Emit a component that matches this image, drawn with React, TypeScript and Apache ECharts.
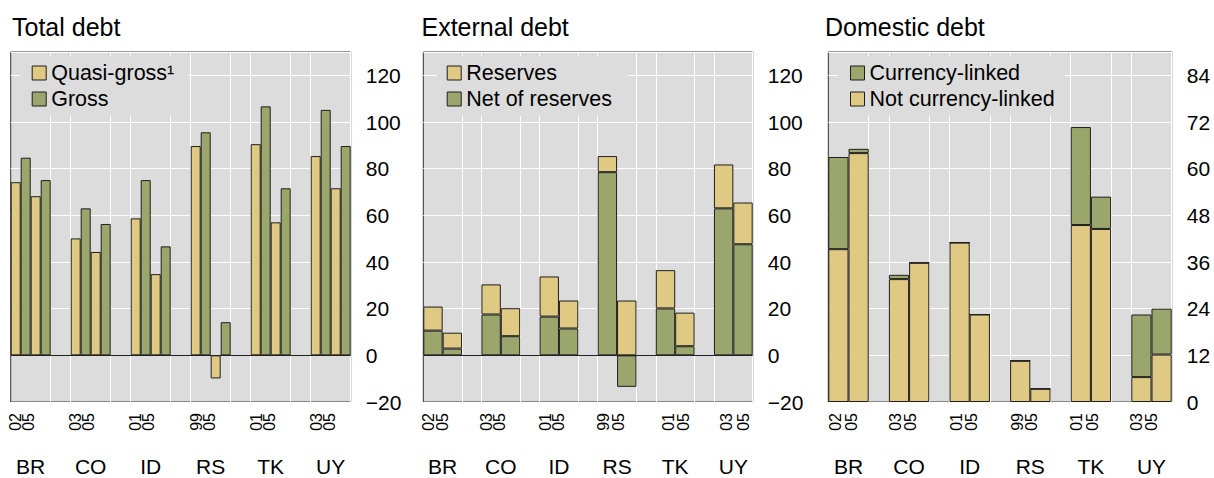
import React, { useEffect, useRef } from "react";
import * as echarts from "echarts";

// Countries and the two observation years shown for each of them
const countries = ["BR", "CO", "ID", "RS", "TK", "UY"];
const years = [
  ["02", "05"],
  ["03", "05"],
  ["01", "05"],
  ["99", "05"],
  ["01", "05"],
  ["03", "05"],
];

// Total debt (per cent of GDP), two bars per year
const quasiGross = [74.2, 68.2, 50.1, 44.3, 58.7, 34.8, 89.7, -9.9, 90.5, 57.0, 85.4, 71.6];
const gross = [84.7, 75.1, 63.0, 56.3, 75.1, 46.7, 95.6, 14.2, 106.7, 71.6, 105.2, 89.7];

// External debt, stacked: net of reserves + reserves
const netOfReserves = [10.6, 2.9, 17.5, 8.2, 16.6, 11.5, 78.5, -13.5, 20.1, 3.9, 63.0, 47.6];
const reserves = [10.3, 6.8, 12.9, 12.0, 17.2, 12.0, 6.9, 23.5, 16.4, 14.4, 18.8, 17.9];

// Domestic debt, stacked: not currency-linked + currency-linked
const notCurrencyLinked = [39.3, 64.0, 31.6, 35.8, 41.0, 22.5, 10.6, 3.4, 45.5, 44.5, 6.4, 12.2];
const currencyLinked = [23.7, 1.1, 1.1, 0, 0, 0, 0, 0, 25.2, 8.3, 16.1, 11.8];

// Value-axis ranges
const totalAxis = { min: -20, max: 130, interval: 20 };
const externalAxis = { min: -20, max: 130, interval: 20 };
const domesticAxis = { min: 0, max: 90, interval: 12 };

const titles = ["Total debt", "External debt", "Domestic debt"];

// ---- layout / style constants ----
const FONT = "'Liberation Sans', Arial, Helvetica, sans-serif";
const YELLOW = "#dfc983";
const GREEN = "#9aa66c";
const PLOT_BG = "#dcdcdc";
const EDGE = "#1e1e1e";

const grids = [
  { left: 10.7, width: 340 },
  { left: 423.3, width: 329.4 },
  { left: 828.3, width: 343.4 },
];
const GRID_TOP = 52;
const GRID_HEIGHT = 350;

const titleLeft = [12, 421.5, 825];
const legendBoxes = [
  { left: 20, padding: [6, 14, 6, 11.7] },
  { left: 437, padding: [6, 16, 6, 9.7] },
  { left: 838, padding: [6, 10, 6, 12] },
];

// horizontal nudge (px) of each rotated year label relative to its bar slot
const yearLabelShift = [
  [-5, -12, -5, -12, -5, -12, -4, -11, -4, -11, -4, -11],
  [-4, -10, -5, -11, -4, -10, -4, -8, 3, -1, 3, 0],
  [-3, -7, -4, -9, -3, -8, -3, -9, -4, -9, -5, -10],
];
const YEAR_FONT = 16;
const YEAR_LABEL_GAP = 11; // distance from the plot's lower edge to the end of each year label

// One slot per year, with an empty slot between countries
type Slot = { key: string; year: string; bar: number };
const slots: Slot[] = [];
countries.forEach((c, ci) => {
  years[ci].forEach((y, yi) => slots.push({ key: `${c}-${y}-${yi}`, year: y, bar: ci * 2 + yi }));
  if (ci < countries.length - 1) slots.push({ key: `gap-${ci}`, year: "", bar: -1 });
});
const isGap = (i: number) => i >= 0 && i < slots.length && slots[i].bar < 0;
const toSlots = (values: number[]) => slots.map((s) => (s.bar < 0 ? null : values[s.bar]));

// boundary positions (0..slots.length) used to centre the country names under each pair of years
const boundaries = Array.from({ length: slots.length + 1 }, (_, i) => `b${i}`);
const countryAtBoundary = (i: number) => (i % 3 === 1 ? countries[(i - 1) / 3] : "");

function yearAxis(p: number) {
  return {
    type: "category",
    gridIndex: p,
    position: "bottom",
    data: slots.map((s) => s.key),
    boundaryGap: true,
    axisLine: { show: false },
    axisTick: { show: false },
    axisLabel: { show: false },
    splitLine: {
      show: true,
      interval: (i: number) => isGap(i) || isGap(i - 1),
      lineStyle: { color: "#ffffff", width: 1 },
    },
  };
}

function countryAxis(p: number) {
  return {
    type: "category",
    gridIndex: p,
    position: "bottom",
    data: boundaries,
    boundaryGap: false,
    axisLine: { show: false },
    axisTick: { show: false },
    splitLine: { show: false },
    axisLabel: {
      interval: 0,
      margin: 54,
      fontSize: 21,
      fontFamily: FONT,
      color: "#000",
      formatter: (_v: string, i: number) => countryAtBoundary(i),
    },
  };
}

function valueAxis(p: number, r: { min: number; max: number; interval: number }) {
  return {
    type: "value",
    gridIndex: p,
    position: "right",
    min: r.min,
    max: r.max,
    interval: r.interval,
    axisLine: { show: false },
    axisTick: { show: false },
    splitLine: { show: true, lineStyle: { color: "#ffffff", width: 1 } },
    axisLabel: {
      margin: 15,
      fontSize: 21,
      fontFamily: FONT,
      color: "#000",
      formatter: (v: number) =>
        (v - r.min) % r.interval === 0 && v < r.max ? String(v).replace("-", "\u2212") : "",
    },
  };
}

const barStyle = (color: string) => ({ color, borderColor: EDGE, borderWidth: 1 });

const zeroLine = {
  silent: true,
  symbol: ["none", "none"],
  label: { show: false },
  lineStyle: { color: "#222", width: 1, type: "solid" },
  data: [{ yAxis: 0 }],
};

function buildOption() {
  return {
    animation: false,
    backgroundColor: "#ffffff",
    textStyle: { fontFamily: FONT },
    title: titles.map((t, p) => ({
      text: t,
      left: titleLeft[p],
      top: 14,
      padding: 0,
      textStyle: { fontSize: 25, fontWeight: "normal", color: "#000", fontFamily: FONT },
    })),
    grid: grids.map((g) => ({
      left: g.left,
      top: GRID_TOP,
      width: g.width,
      height: GRID_HEIGHT,
      show: true,
      backgroundColor: PLOT_BG,
      borderColor: "#333",
      borderWidth: 1,
      containLabel: false,
      outerBoundsMode: "none",
    })),
    legend: [
      ["Quasi-gross\u00b9", "Gross"],
      ["Reserves", "Net of reserves"],
      ["Currency-linked", "Not currency-linked"],
    ].map((names, p) => ({
      data: names,
      orient: "vertical",
      left: legendBoxes[p].left,
      top: 56,
      padding: legendBoxes[p].padding,
      backgroundColor: PLOT_BG,
      itemWidth: 14,
      itemHeight: 14,
      itemGap: 4,
      icon: "rect",
      selectedMode: false,
      itemStyle: { borderColor: EDGE, borderWidth: 1 },
      textStyle: { fontSize: 21.5, lineHeight: 22, color: "#000", fontFamily: FONT },
    })),
    xAxis: [yearAxis(0), countryAxis(0), yearAxis(1), countryAxis(1), yearAxis(2), countryAxis(2)],
    yAxis: [valueAxis(0, totalAxis), valueAxis(1, externalAxis), valueAxis(2, domesticAxis)],
    series: [
      {
        name: "Quasi-gross\u00b9",
        type: "bar",
        xAxisIndex: 0,
        yAxisIndex: 0,
        data: toSlots(quasiGross),
        barGap: "0%",
        barCategoryGap: "0%",
        itemStyle: barStyle(YELLOW),
        markLine: zeroLine,
      },
      {
        name: "Gross",
        type: "bar",
        xAxisIndex: 0,
        yAxisIndex: 0,
        data: toSlots(gross),
        barGap: "0%",
        barCategoryGap: "0%",
        itemStyle: barStyle(GREEN),
      },
      {
        name: "Net of reserves",
        type: "bar",
        stack: "external",
        xAxisIndex: 2,
        yAxisIndex: 1,
        data: toSlots(netOfReserves),
        barCategoryGap: "0%",
        itemStyle: barStyle(GREEN),
        markLine: zeroLine,
      },
      {
        name: "Reserves",
        type: "bar",
        stack: "external",
        xAxisIndex: 2,
        yAxisIndex: 1,
        data: toSlots(reserves),
        barCategoryGap: "0%",
        itemStyle: barStyle(YELLOW),
      },
      {
        name: "Not currency-linked",
        type: "bar",
        stack: "domestic",
        xAxisIndex: 4,
        yAxisIndex: 2,
        data: toSlots(notCurrencyLinked),
        barCategoryGap: "0%",
        itemStyle: barStyle(YELLOW),
      },
      {
        name: "Currency-linked",
        type: "bar",
        stack: "domestic",
        xAxisIndex: 4,
        yAxisIndex: 2,
        data: toSlots(currencyLinked),
        barCategoryGap: "0%",
        itemStyle: barStyle(GREEN),
      },
    ],
  };
}

// Rotated year labels, placed under their bar slots through each category axis
function yearLabels(chart: echarts.ECharts) {
  const elements: any[] = [];
  const labelTop = GRID_TOP + GRID_HEIGHT + YEAR_LABEL_GAP;
  grids.forEach((_g, p) => {
    slots.forEach((s) => {
      if (s.bar < 0) return;
      const cx = chart.convertToPixel({ xAxisIndex: p * 2 } as any, s.key) as unknown as number;
      elements.push({
        type: "text",
        x: cx + yearLabelShift[p][s.bar],
        y: labelTop,
        rotation: Math.PI / 2,
        silent: true,
        style: {
          text: s.year,
          fontSize: YEAR_FONT,
          fontFamily: FONT,
          fill: "#000",
          align: "right",
          verticalAlign: "middle",
        },
      });
    });
  });
  return elements;
}

export default function App() {
  const ref = useRef<HTMLDivElement>(null);
  useEffect(() => {
    if (!ref.current) return;
    const chart = echarts.init(ref.current, undefined, { renderer: "svg" });
    chart.setOption(buildOption() as any);
    chart.setOption({ graphic: yearLabels(chart) } as any);
    return () => chart.dispose();
  }, []);
  return (
    <div
      ref={ref}
      style={{ position: "fixed", left: 0, top: 0, width: 1214, height: 478, background: "#fff" }}
    />
  );
}
